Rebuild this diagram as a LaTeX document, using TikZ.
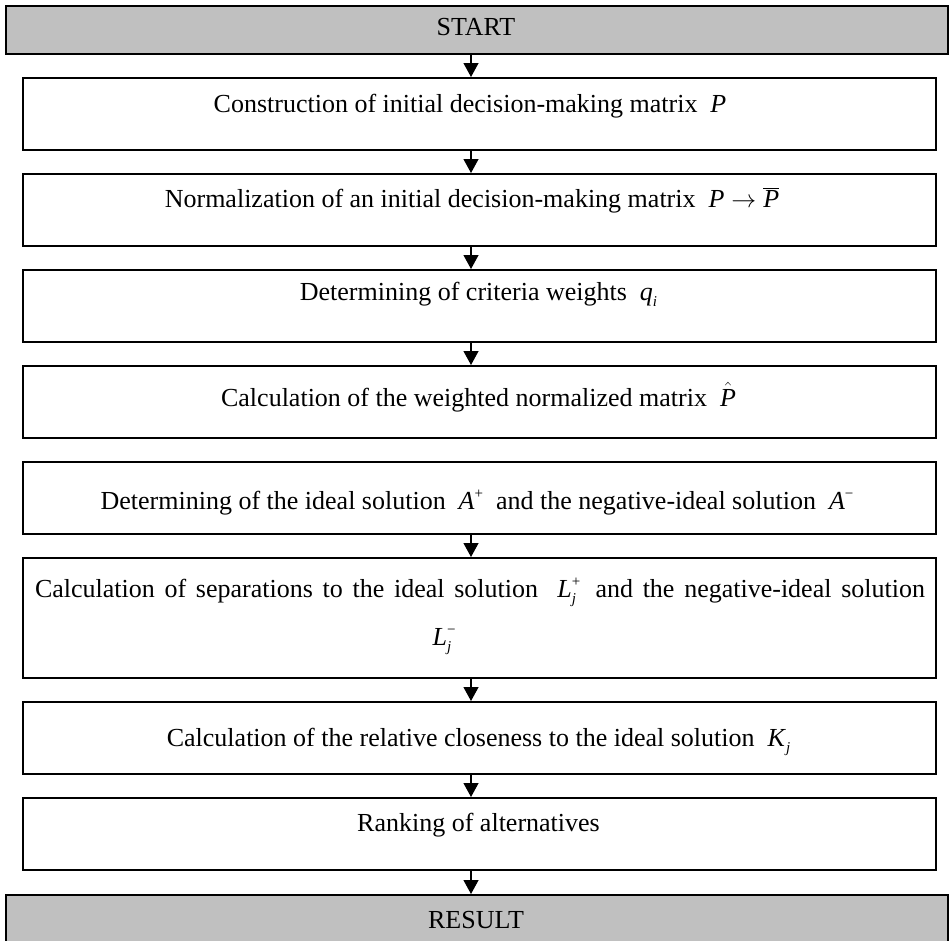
\documentclass[tikz,border=0pt]{standalone}
\usepackage{fontspec}
\setmainfont{Liberation Serif}
\usetikzlibrary{arrows.meta}

% small size for indices
\newcommand{\idxsize}{\fontsize{15}{15}\selectfont}
% letter with a lower index
\newcommand{\withsub}[2]{\textit{#1}\raisebox{-0.25em}{\idxsize\textit{#2}}}
% letter with an upper index
\newcommand{\withsup}[2]{\textit{#1}\raisebox{0.42em}{\idxsize #2}}
% letter with both indices stacked
\newcommand{\withboth}[3]{\textit{#1}\makebox[0pt][l]{\raisebox{0.42em}{\idxsize #2}}\raisebox{-0.25em}{\idxsize\textit{#3}}}

\begin{document}
\begin{tikzpicture}[x=1pt,y=-1pt,
  every node/.style={font=\fontsize{26}{31}\selectfont},
  stepbox/.style={draw=black, line width=1.6pt, fill=white,
    minimum width=913pt, minimum height=72pt, inner sep=0pt, anchor=north west},
  endbar/.style={draw=black, line width=1.6pt, fill=barfill,
    minimum width=942pt, minimum height=48pt, inner sep=0pt, anchor=north west},
  label/.style={anchor=base, inner sep=0pt},
  flow/.style={line width=1.2pt, -{Triangle[width=15pt,length=14pt]}}]
\definecolor{barfill}{RGB}{192,192,192}
\useasboundingbox (0,0) rectangle (949,940);
\clip (0,0) rectangle (949,940);

% start and result bars
\node[endbar] (start) at (5,5) {};
\node[label] (tstart) at (476,35) {START};
\node[endbar] (result) at (5,894) {};
\node[label] (tresult) at (476,928) {RESULT};

% process boxes
\node[stepbox] (b1) at (22,77) {};
\node[stepbox] (b2) at (22,173) {};
\node[stepbox] (b3) at (22,269) {};
\node[stepbox] (b4) at (22,365) {};
\node[stepbox] (b5) at (22,461) {};
\node[stepbox, minimum height=120pt] (b6) at (22,557) {};
\node[stepbox] (b7) at (22,701) {};
\node[stepbox] (b8) at (22,797) {};

% box texts
\node[label] (t1) at (470,112) {Construction of initial decision-making matrix \ \textit{P}};
\node[label] (t2) at (472,207) {Normalization of an initial decision-making matrix \ \textit{P}\hspace{7pt}$\rightarrow$\hspace{7pt}$\overline{\hbox{\textit{P}}}$};
\node[label] (t3) at (478.5,300) {Determining of criteria weights \ \withsub{q}{i}};
\node[label] (t4) at (478.5,406) {Calculation of the weighted normalized matrix \ $\hat{\hbox{\textit{P}}}$};
\node[label] (t5) at (477,509) {Determining of the ideal solution \ \withsup{A}{+} \ and the negative-ideal solution \ \withsup{A}{−}};
\node[label] (t6a) at (480,597) {\makebox[890pt][s]{Calculation of separations to the ideal solution \ \withboth{L}{+}{j} \ and the negative-ideal solution}};
\node[label] (t6b) at (442,645) {\withboth{L}{−}{j}};
\node[label] (t7) at (478.5,746) {Calculation of the relative closeness to the ideal solution \ \withsub{K}{j}};
\node[label] (t8) at (478.5,831) {Ranking of alternatives};

% connectors
\coordinate (ax) at (471,0);
\draw[flow] (start.south -| ax) -- (b1.north -| ax);
\draw[flow] (b1.south -| ax) -- (b2.north -| ax);
\draw[flow] (b2.south -| ax) -- (b3.north -| ax);
\draw[flow] (b3.south -| ax) -- (b4.north -| ax);
\draw[flow] (b5.south -| ax) -- (b6.north -| ax);
\draw[flow] (b6.south -| ax) -- (b7.north -| ax);
\draw[flow] (b7.south -| ax) -- (b8.north -| ax);
\draw[flow] (b8.south -| ax) -- (result.north -| ax);
\end{tikzpicture}
\end{document}
